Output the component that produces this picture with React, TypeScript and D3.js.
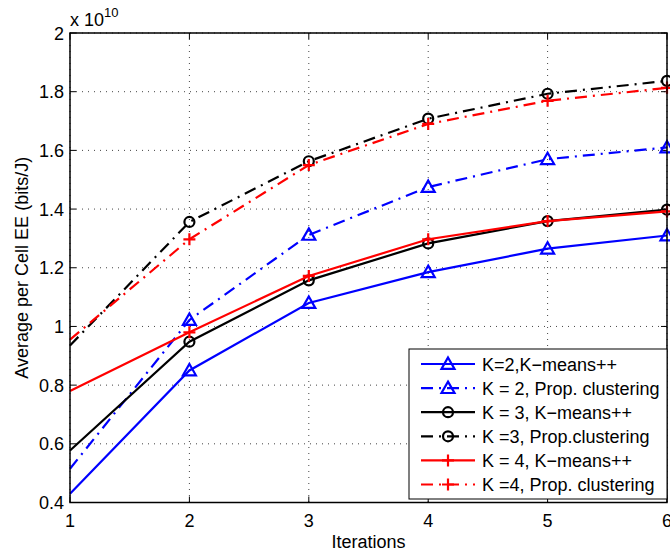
import React from "react";
import * as d3 from "d3";

const iterations = [1, 2, 3, 4, 5, 6];
const k2Kmeans = [0.43, 0.85, 1.08, 1.185, 1.265, 1.31];
const k2Prop = [0.515, 1.022, 1.312, 1.475, 1.57, 1.61];
const k3Kmeans = [0.577, 0.948, 1.157, 1.283, 1.359, 1.398];
const k3Prop = [0.935, 1.356, 1.563, 1.708, 1.793, 1.837];
const k4Kmeans = [0.78, 0.98, 1.172, 1.297, 1.359, 1.392];
const k4Prop = [0.955, 1.297, 1.55, 1.69, 1.769, 1.813];
const yTicks = [0.4, 0.6, 0.8, 1, 1.2, 1.4, 1.6, 1.8, 2];
const xTicks = [1, 2, 3, 4, 5, 6];
const legendLabels = [
  "K=2,K\u2212means++",
  "K = 2, Prop. clustering",
  "K = 3, K\u2212means++",
  "K =3, Prop.clustering",
  "K = 4, K\u2212means++",
  "K =4, Prop. clustering",
];

type Marker = "tri" | "circle" | "plus";
const series: { values: number[]; color: string; dashed: boolean; marker: Marker }[] = [
  { values: k2Kmeans, color: "#0000ff", dashed: false, marker: "tri" },
  { values: k2Prop, color: "#0000ff", dashed: true, marker: "tri" },
  { values: k3Kmeans, color: "#000000", dashed: false, marker: "circle" },
  { values: k3Prop, color: "#000000", dashed: true, marker: "circle" },
  { values: k4Kmeans, color: "#ff0000", dashed: false, marker: "plus" },
  { values: k4Prop, color: "#ff0000", dashed: true, marker: "plus" },
];

const W = 670;
const H = 554;
const L = 70;
const R = 667;
const T = 33;
const B = 502.5;
const FONT = "'Liberation Sans', Arial, Helvetica, sans-serif";
const FS = 18;
const DASH = "12,6,2,6";
const LW = 2.2;

function MarkerShape({ type, x, y, color }: { type: Marker; x: number; y: number; color: string }) {
  if (type === "tri") {
    const s = 6.5;
    const p = `M${x},${y - s} L${x + s},${y + s * 0.75} L${x - s},${y + s * 0.75} Z`;
    return <path d={p} fill="none" stroke={color} strokeWidth={LW} />;
  }
  if (type === "circle") {
    return <circle cx={x} cy={y} r={5} fill="none" stroke={color} strokeWidth={LW} />;
  }
  const s = 6;
  return (
    <path d={`M${x - s},${y} L${x + s},${y} M${x},${y - s} L${x},${y + s}`} stroke={color} strokeWidth={LW} fill="none" />
  );
}

export default function App() {
  const x = d3.scaleLinear().domain([1, 6]).range([L, R]);
  const y = d3.scaleLinear().domain([0.4, 2]).range([B, T]);
  const fmt = d3.format("~g");
  const line = d3
    .line<number>()
    .x((_, i) => x(iterations[i]))
    .y((d) => y(d));

  const legX = 409;
  const legY = 349;
  const legW = R - legX;
  const legH = 150;
  const rowY0 = 364;
  const rowStep = 24.1;

  return (
    <svg width={W} height={H} style={{ position: "absolute", left: 0, top: 0, background: "#fff" }} fontFamily={FONT}>
      <rect x={0} y={0} width={W} height={H} fill="#fff" />
      {/* grid */}
      {xTicks.map((t) => (
        <line key={"gx" + t} x1={x(t)} x2={x(t)} y1={T} y2={B} stroke="#444" strokeWidth={1} strokeDasharray="1,5" />
      ))}
      {yTicks.map((t) => (
        <line key={"gy" + t} x1={L} x2={R} y1={y(t)} y2={y(t)} stroke="#444" strokeWidth={1} strokeDasharray="1,5" />
      ))}
      {/* ticks */}
      {xTicks.map((t) => (
        <g key={"tx" + t}>
          <line x1={x(t)} x2={x(t)} y1={B} y2={B - 6} stroke="#000" />
          <line x1={x(t)} x2={x(t)} y1={T} y2={T + 6} stroke="#000" />
          <text x={x(t)} y={B + 24} fontSize={FS} textAnchor="middle" fill="#000">
            {fmt(t)}
          </text>
        </g>
      ))}
      {yTicks.map((t) => (
        <g key={"ty" + t}>
          <line x1={L} x2={L + 6} y1={y(t)} y2={y(t)} stroke="#000" />
          <line x1={R} x2={R - 6} y1={y(t)} y2={y(t)} stroke="#000" />
          <text x={L - 6} y={y(t) + 6.5} fontSize={FS} textAnchor="end" fill="#000">
            {fmt(t)}
          </text>
        </g>
      ))}
      {/* series */}
      {series.map((s, si) => (
        <g key={"s" + si}>
          <path d={line(s.values) || ""} fill="none" stroke={s.color} strokeWidth={LW} strokeDasharray={s.dashed ? DASH : undefined} />
          {s.values.map((v, i) =>
            i === 0 ? null : <MarkerShape key={i} type={s.marker} x={x(iterations[i])} y={y(v)} color={s.color} />
          )}
        </g>
      ))}
      {/* axes box */}
      <rect x={L} y={T} width={R - L} height={B - T} fill="none" stroke="#000" strokeWidth={1.5} />
      {/* exponent */}
      <text x={L} y={26} fontSize={FS} fill="#000">
        x 10
        <tspan fontSize={13} dy={-9}>
          10
        </tspan>
      </text>
      {/* labels */}
      <text x={(L + R) / 2} y={548} fontSize={FS} textAnchor="middle" fill="#000">
        Iterations
      </text>
      <text transform={`translate(28,${(T + B) / 2}) rotate(-90)`} fontSize={FS} textAnchor="middle" fill="#000">
        Average per Cell EE (bits/J)
      </text>
      {/* legend */}
      <rect x={legX} y={legY} width={legW} height={legH} fill="#fff" stroke="#000" strokeWidth={1} />
      {series.map((s, i) => {
        const ry = rowY0 + i * rowStep;
        return (
          <g key={"lg" + i}>
            <line x1={421} x2={475} y1={ry} y2={ry} stroke={s.color} strokeWidth={LW} strokeDasharray={s.dashed ? DASH : undefined} />
            <MarkerShape type={s.marker} x={448} y={ry} color={s.color} />
            <text x={482} y={ry + 6.5} fontSize={FS} fill="#000">
              {legendLabels[i]}
            </text>
          </g>
        );
      })}
    </svg>
  );
}
